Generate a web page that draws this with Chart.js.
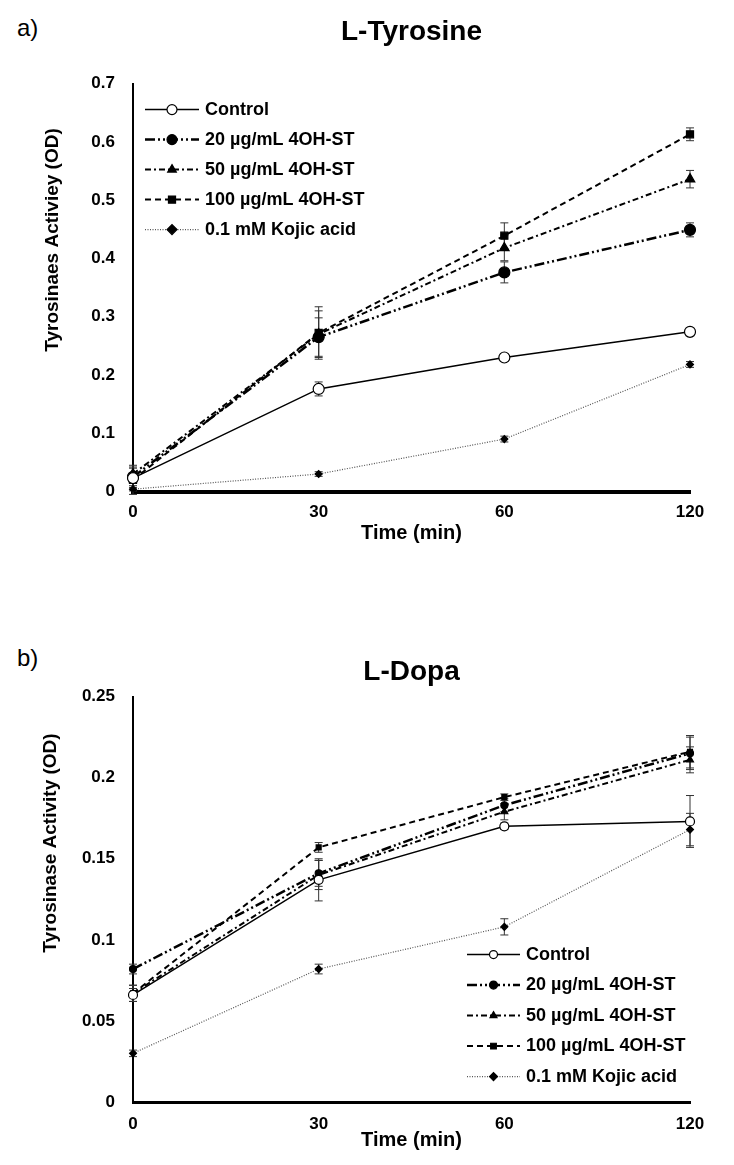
<!DOCTYPE html>
<html lang="en">
<head>
    <meta charset="UTF-8">
    <title>Tyrosinase activity</title>
    <script src="https://cdn.jsdelivr.net/npm/chart.js"></script>
    <style>
        body { margin: 0; background: #fff; font-family: "Liberation Sans", Arial, sans-serif; }
        .panel { position: absolute; left: 0; width: 734px; }
        .tag { position: absolute; left: 17px; font-size: 24px; line-height: 28px; color: #000; }
    </style>
</head>
<body>
    <div class="tag" style="top:14px">a)</div>
    <div class="panel" style="top:0; height:570px"><canvas id="tyrosineChart"></canvas></div>

    <div class="tag" style="top:644px">b)</div>
    <div class="panel" style="top:580px; height:585px"><canvas id="dopaChart"></canvas></div>

    <script>
        // shared
        const timeLabels = ['0', '30', '60', '120'];
        const seriesNames = ['Control', '20 µg/mL 4OH-ST', '50 µg/mL 4OH-ST', '100 µg/mL 4OH-ST', '0.1 mM Kojic acid'];

        // a) L-Tyrosine
        const tyrControl = [0.023, 0.176, 0.230, 0.274];
        const tyr20 = [0.025, 0.265, 0.376, 0.449];
        const tyr50 = [0.030, 0.270, 0.418, 0.536];
        const tyr100 = [0.020, 0.272, 0.439, 0.613];
        const tyrKojic = [0.004, 0.030, 0.090, 0.218];
        const tyrControlErr = [0.005, 0.012, 0.005, 0.004];
        const tyr20Err = [0.015, 0.033, 0.018, 0.012];
        const tyr50Err = [0.012, 0.040, 0.022, 0.015];
        const tyr100Err = [0.025, 0.045, 0.022, 0.011];
        const tyrKojicErr = [0.003, 0.004, 0.005, 0.005];

        // b) L-Dopa
        const dopaControl = [0.066, 0.137, 0.170, 0.173];
        const dopa20 = [0.082, 0.141, 0.183, 0.215];
        const dopa50 = [0.067, 0.140, 0.179, 0.211];
        const dopa100 = [0.067, 0.157, 0.188, 0.216];
        const dopaKojic = [0.030, 0.082, 0.108, 0.168];
        const dopaControlErr = [0.004, 0.013, 0.002, 0.016];
        const dopa20Err = [0.003, 0.008, 0.004, 0.010];
        const dopa50Err = [0.005, 0.009, 0.005, 0.008];
        const dopa100Err = [0.005, 0.003, 0.002, 0.010];
        const dopaKojicErr = [0.002, 0.003, 0.005, 0.010];

        Chart.defaults.font.family = '"Liberation Sans", Arial, sans-serif';
        Chart.defaults.color = '#000';

        // line styles per series
        const looks = [
            { borderDash: [], borderWidth: 1.5, pointStyle: 'circle', fill: '#fff', borderColor: '#000' },
            { borderDash: [10, 3, 2, 3, 2, 3], borderWidth: 2.5, pointStyle: 'circle', fill: '#000', borderColor: '#000' },
            { borderDash: [6, 3, 2, 3], borderWidth: 2, pointStyle: 'triangle', fill: '#000', borderColor: '#000' },
            { borderDash: [6, 4], borderWidth: 2, pointStyle: 'rect', fill: '#000', borderColor: '#000' },
            { borderDash: [1, 1.5], borderWidth: 1.2, pointStyle: 'rectRot', fill: '#000', borderColor: '#555' }
        ];

        function makeDatasets(values, errors, radii) {
            return values.map((v, i) => ({
                label: seriesNames[i],
                data: v,
                errors: errors[i],
                borderColor: looks[i].borderColor,
                borderWidth: looks[i].borderWidth,
                borderDash: looks[i].borderDash,
                tension: 0,
                pointStyle: looks[i].pointStyle,
                pointRadius: radii[i],
                pointHoverRadius: radii[i],
                pointBackgroundColor: looks[i].fill,
                pointBorderColor: '#000',
                pointBorderWidth: 1.2
            }));
        }

        // vertical error bars, drawn through the y scale
        const errorBars = {
            id: 'errorBars',
            beforeDatasetsDraw(chart) {
                const ctx = chart.ctx;
                const y = chart.scales.y;
                ctx.save();
                ctx.strokeStyle = '#333';
                ctx.lineWidth = 1;
                ctx.setLineDash([]);
                chart.data.datasets.forEach((ds, d) => {
                    const meta = chart.getDatasetMeta(d);
                    ds.data.forEach((v, i) => {
                        const e = ds.errors[i];
                        const px = meta.data[i].x;
                        const top = y.getPixelForValue(v + e);
                        const bot = y.getPixelForValue(v - e);
                        ctx.beginPath();
                        ctx.moveTo(px, top); ctx.lineTo(px, bot);
                        ctx.moveTo(px - 4, top); ctx.lineTo(px + 4, top);
                        ctx.moveTo(px - 4, bot); ctx.lineTo(px + 4, bot);
                        ctx.stroke();
                    });
                });
                ctx.restore();
            }
        };

        // legend with line samples, placed inside the plot
        const lineLegend = {
            id: 'lineLegend',
            afterDraw(chart, args, opts) {
                const ctx = chart.ctx;
                const area = chart.chartArea;
                ctx.save();
                chart.data.datasets.forEach((ds, i) => {
                    const yy = area.top + opts.top + i * opts.rowHeight;
                    const x0 = opts.left;
                    ctx.setLineDash(ds.borderDash);
                    ctx.lineWidth = ds.borderWidth;
                    ctx.strokeStyle = ds.borderColor;
                    ctx.beginPath();
                    ctx.moveTo(x0, yy); ctx.lineTo(x0 + opts.lineLength, yy);
                    ctx.stroke();
                    ctx.setLineDash([]);
                    ctx.fillStyle = ds.pointBackgroundColor;
                    ctx.strokeStyle = '#000';
                    ctx.lineWidth = 1.2;
                    Chart.helpers.drawPoint(ctx, {
                        pointStyle: ds.pointStyle,
                        radius: opts.pointRadius,
                        borderWidth: 1.2,
                        rotation: 0
                    }, x0 + opts.lineLength / 2, yy);
                    ctx.fillStyle = '#000';
                    ctx.font = 'bold 18px "Liberation Sans", Arial, sans-serif';
                    ctx.textBaseline = 'middle';
                    ctx.textAlign = 'left';
                    ctx.fillText(ds.label, x0 + opts.lineLength + 6, yy);
                });
                ctx.restore();
            }
        };

        // rotated y-axis title, sitting a little above the middle as in the figure
        const yTitle = {
            id: 'yTitle',
            afterDraw(chart, args, opts) {
                const ctx = chart.ctx;
                ctx.save();
                ctx.translate(opts.x, opts.y);
                ctx.rotate(-Math.PI / 2);
                ctx.fillStyle = '#000';
                ctx.font = 'bold 19px "Liberation Sans", Arial, sans-serif';
                ctx.textAlign = 'center';
                ctx.textBaseline = 'middle';
                ctx.fillText(opts.text, 0, 0);
                ctx.restore();
            }
        };

        function buildChart(id, cfg) {
            return new Chart(document.getElementById(id), {
                type: 'line',
                data: {
                    labels: timeLabels,
                    datasets: cfg.datasets
                },
                plugins: [errorBars, lineLegend, yTitle],
                options: {
                    responsive: true,
                    maintainAspectRatio: false,
                    animation: false,
                    layout: { padding: { left: 0, right: 44, top: 0, bottom: 0 } },
                    plugins: {
                        legend: { display: false },
                        tooltip: { enabled: false },
                        title: {
                            display: true,
                            text: cfg.title,
                            fullSize: false,
                            font: { size: 28, weight: 'bold' },
                            padding: cfg.titlePadding
                        },
                        lineLegend: cfg.legend,
                        yTitle: cfg.yTitle
                    },
                    scales: {
                        x: {
                            offset: false,
                            grid: { display: false, drawTicks: false },
                            border: { color: '#000', width: cfg.xBorder },
                            ticks: { font: { size: 17, weight: 'bold' }, padding: cfg.xTickPad, maxRotation: 0 },
                            title: { display: true, text: 'Time (min)', font: { size: 20, weight: 'bold' }, padding: { top: 0, bottom: cfg.xTitlePad } },
                            afterFit: s => { s.height = cfg.xHeight; }
                        },
                        y: {
                            min: 0,
                            max: cfg.yMax,
                            grid: { display: false, drawTicks: false },
                            border: { color: '#000', width: 2 },
                            ticks: {
                                stepSize: cfg.yStep,
                                font: { size: 17, weight: 'bold' },
                                padding: 18,
                                callback: v => String(+v.toFixed(3))
                            },
                            afterFit: s => { s.width = 133; }
                        }
                    }
                }
            });
        }

        buildChart('tyrosineChart', {
            title: 'L-Tyrosine',
            titlePadding: { top: 15, bottom: 35 },
            yTitle: { text: 'Tyrosinaes Activiey (OD)', x: 53, y: 240 },
            yMax: 0.7,
            yStep: 0.1,
            xBorder: 4,
            xHeight: 78.5,
            xTickPad: 11,
            xTitlePad: 25,
            legend: { left: 145, top: 26, rowHeight: 30, lineLength: 54, pointRadius: 5 },
            datasets: makeDatasets(
                [tyrControl, tyr20, tyr50, tyr100, tyrKojic],
                [tyrControlErr, tyr20Err, tyr50Err, tyr100Err, tyrKojicErr],
                [5.5, 5.5, 5.5, 5, 3.5]
            )
        });

        buildChart('dopaChart', {
            title: 'L-Dopa',
            titlePadding: { top: 75, bottom: 8 },
            yTitle: { text: 'Tyrosinase Activity (OD)', x: 51, y: 263 },
            yMax: 0.25,
            yStep: 0.05,
            xBorder: 3,
            xHeight: 63,
            xTickPad: 12,
            xTitlePad: 13,
            legend: { left: 467, top: 258, rowHeight: 30.5, lineLength: 53, pointRadius: 4 },
            datasets: makeDatasets(
                [dopaControl, dopa20, dopa50, dopa100, dopaKojic],
                [dopaControlErr, dopa20Err, dopa50Err, dopa100Err, dopaKojicErr],
                [4.5, 3.5, 4, 3.5, 3.5]
            )
        });
    </script>
</body>
</html>
